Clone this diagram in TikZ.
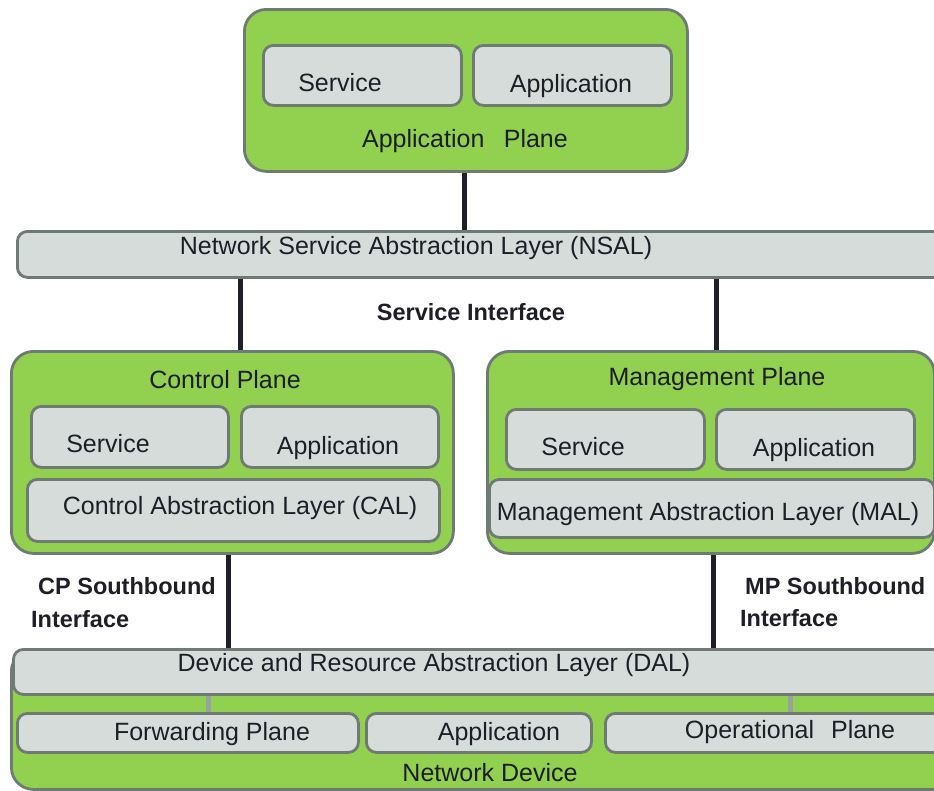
\documentclass[tikz,border=0pt]{standalone}
\usepackage{fontspec}
\setmainfont{Liberation Sans}
\definecolor{grn}{HTML}{92D050}
\definecolor{bord}{HTML}{6F7A74}
\definecolor{lgray}{HTML}{D6DCD9}
\definecolor{tcol}{HTML}{1E1E28}
\definecolor{dcol}{HTML}{1F1F2A}
\definecolor{scol}{HTML}{9AA29E}
\newcommand\bx[6]{\node[#1, anchor=north west, minimum width={(#5)-(#3)}, minimum height={(#6)-(#4)}] (#2) at (#3,#4) {};}
\begin{document}
\begin{tikzpicture}[x=1pt,y=-1pt,
  grnbox/.style={draw=bord, fill=grn, line width=2.8pt, rounded corners=22pt, inner sep=0pt, shape=rectangle},
  grybox/.style={draw=bord, fill=lgray, line width=2.8pt, rounded corners=10pt, inner sep=0pt, shape=rectangle},
  txt/.style={text=tcol, font=\fontsize{25}{30}\selectfont, inner sep=0pt, yshift=-2pt},
  btxt/.style={text=tcol, font=\fontsize{23.5}{30}\selectfont\bfseries, inner sep=0pt, anchor=west},
  conn/.style={draw=dcol, line width=5pt},
  sconn/.style={draw=scol, line width=5pt}]
\useasboundingbox (0,0) rectangle (934,790);
\clip (0,0) rectangle (934,790);

% Application plane
\bx{grnbox}{ap}{243}{8}{686}{170}
\bx{grybox}{apS}{262}{44}{460}{104}
\bx{grybox}{apA}{472}{44}{670}{104}
\node[txt] (apSt) at (340,81) {Service};
\node[txt] (apAt) at (571,84) {Application};
\node[txt] (apt) at (465,139) {Application\hspace{0.5em} Plane};

% NSAL
\bx{grybox}{nsal}{16}{230}{960}{276}
\node[txt] (nsalt) at (416,246) {Network Service Abstraction Layer (NSAL)};
\node[btxt, anchor=center] (si) at (471,312) {Service Interface};

% Control plane
\bx{grnbox}{cp}{10}{350}{452}{552}
\bx{grybox}{cpS}{30}{405}{227}{466}
\bx{grybox}{cpA}{240}{405}{437}{466}
\bx{grybox}{cal}{26}{478}{438}{540}
\node[txt] (cpt) at (225,378) {Control Plane};
\node[txt] (cpSt) at (108,442) {Service};
\node[txt] (cpAt) at (338,446) {Application};
\node[txt] (calt) at (240,506) {Control Abstraction Layer (CAL)};

% Management plane
\bx{grnbox}{mp}{486}{350}{933}{552}
\bx{grybox}{mpS}{505}{408}{703}{468}
\bx{grybox}{mpA}{715}{408}{913}{468}
\bx{grybox}{mal}{488}{478}{933}{536}
\node[txt] (mpt) at (717,377) {Management Plane};
\node[txt] (mpSt) at (583,445) {Service};
\node[txt] (mpAt) at (814,448) {Application};
\node[txt] (malt) at (708,512) {Management Abstraction Layer (MAL)};

% Southbound labels
\node[btxt] (cps1) at (38,586) {CP Southbound};
\node[btxt] (cps2) at (31,619) {Interface};
\node[btxt] (mps1) at (745,586) {MP Southbound};
\node[btxt] (mps2) at (740,618) {Interface};

% Network device
\bx{grnbox}{nd}{10}{648}{960}{788}
\bx{grybox}{dal}{12}{648}{960}{693}
\bx{grybox}{fp}{16}{712}{357}{751}
\bx{grybox}{nda}{365}{712}{590}{751}
\bx{grybox}{op}{604}{712}{960}{751}
\node[txt] (dalt) at (434,663) {Device and Resource Abstraction Layer (DAL)};
\node[txt] (fpt) at (212,732) {Forwarding Plane};
\node[txt] (ndat) at (499,732) {Application};
\node[txt] (opt) at (790,730) {Operational\hspace{0.4em} Plane};
\node[txt] (ndt) at (490,771) {Network Device};

% connectors
\coordinate (x1) at (464,0);
\coordinate (x2) at (240,0);
\coordinate (x3) at (716,0);
\coordinate (x4) at (228,0);
\coordinate (x5) at (713,0);
\coordinate (x6) at (208,0);
\coordinate (x7) at (790,0);
\draw[conn] (ap.south -| x1) -- (nsal.north -| x1);
\draw[conn] (nsal.south -| x2) -- (cp.north -| x2);
\draw[conn] (nsal.south -| x3) -- (mp.north -| x3);
\draw[conn] (cp.south -| x4) -- (dal.north -| x4);
\draw[conn] (mp.south -| x5) -- (dal.north -| x5);
\draw[sconn] (dal.south -| x6) -- (fp.north -| x6);
\draw[sconn] (dal.south -| x7) -- (op.north -| x7);
\end{tikzpicture}
\end{document}
